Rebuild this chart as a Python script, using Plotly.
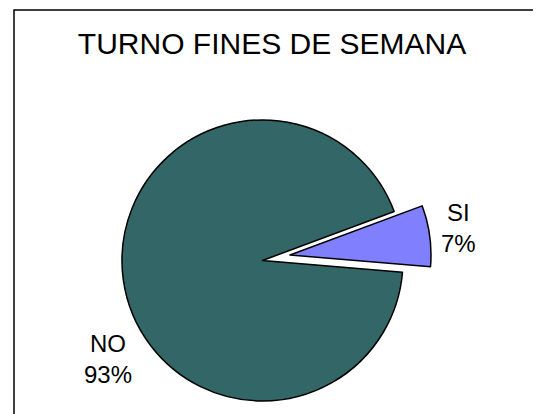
import plotly.graph_objects as go

# Data
labels = ["NO", "SI"]
values = [93, 7]
colors = ["#336666", "#8080FF"]
title_text = "TURNO FINES DE SEMANA"

OFF = 8  # default body margin of the html page
W, H = 541 - OFF, 414 - OFF
FONT = "Liberation Sans, Arial, sans-serif"

def fx(px):
    return (px - OFF) / W

def fy(py):
    return 1 - (py - OFF) / H

def px_dom(cx, cy, r):
    return dict(x=[fx(cx - r), fx(cx + r)], y=[fy(cy + r), fy(cy - r)])

rotation = 94.8
fig = go.Figure()
# Main pie: NO slice visible, SI slice hidden (notch)
fig.add_trace(go.Pie(
    labels=labels, values=values, sort=False, direction="counterclockwise",
    rotation=rotation, textinfo="none", hoverinfo="label+percent",
    marker=dict(colors=[colors[0], "rgba(0,0,0,0)"],
                line=dict(color=["#000000", "rgba(0,0,0,0)"], width=1.5)),
    domain=px_dom(262.5, 260.5, 140.5), showlegend=False,
))
# Exploded SI slice
fig.add_trace(go.Pie(
    labels=labels, values=values, sort=False, direction="counterclockwise",
    rotation=rotation, textinfo="none", hoverinfo="label+percent",
    marker=dict(colors=["rgba(0,0,0,0)", colors[1]],
                line=dict(color=["rgba(0,0,0,0)", "#000000"], width=1.5)),
    domain=px_dom(290, 255, 141), showlegend=False,
))

total = sum(values)
label_pos = {"NO": (108, 359), "SI": (458, 228)}
for lab, val in zip(labels, values):
    x, y = label_pos[lab]
    fig.add_annotation(
        text=f"{lab}<br>{round(100 * val / total)}%",
        x=fx(x), y=fy(y), xref="paper", yref="paper",
        xanchor="center", yanchor="middle", showarrow=False,
        font=dict(family=FONT, size=24, color="#000000"),
    )

fig.add_shape(type="rect", xref="paper", yref="paper",
              x0=fx(14), x1=fx(539), y0=-0.2, y1=fy(10),
              line=dict(color="#000000", width=1.5))

fig.update_layout(
    width=W, height=H,
    margin=dict(l=0, r=0, t=0, b=0),
    paper_bgcolor="white", plot_bgcolor="white",
    title=dict(text=title_text, x=fx(272), xanchor="center",
               y=fy(43.5), yanchor="middle", yref="container",
               font=dict(family=FONT, size=30, color="#000000")),
    showlegend=False,
)

fig.write_html("out.html")
